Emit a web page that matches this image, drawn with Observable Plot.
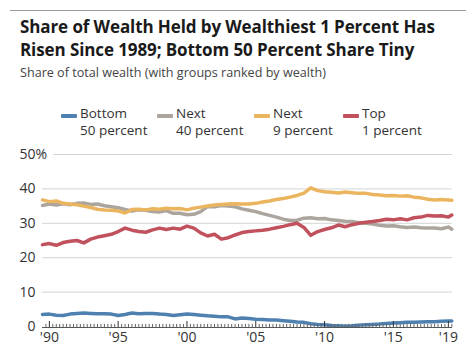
<!DOCTYPE html>
<html>
<head>
<meta charset="utf-8">
<script src="https://cdn.jsdelivr.net/npm/d3@7"></script>
<script src="https://cdn.jsdelivr.net/npm/@observablehq/plot@0.6"></script>
<style>
  html, body { margin: 0; padding: 0; background: #fff; }
  body { width: 475px; height: 354px; position: relative; overflow: hidden; font-family: "Open Sans", sans-serif; color: #222; }
  #rule { position: absolute; left: 10px; top: 10px; width: 456px; height: 1px; background: #9a9a9a; }
  #title { position: absolute; left: 20px; top: 15px; font-size: 17px; font-weight: 700; line-height: 23px; color: #1a1a1a; letter-spacing: -0.1px; white-space: nowrap; }
  #subtitle { position: absolute; left: 20px; top: 64px; font-size: 12.6px; font-weight: 400; color: #444; white-space: nowrap; }
  .leg { position: absolute; top: 105px; font-size: 13.5px; line-height: 17px; color: #333; white-space: nowrap; }
  .sw { position: absolute; top: 114px; width: 16px; height: 4px; border-radius: 1px; }
  #chart { position: absolute; left: 0; top: 140px; }
</style>
</head>
<body>
<div id="rule"></div>
<div id="title">Share of Wealth Held by Wealthiest 1 Percent Has<br>Risen Since 1989; Bottom 50 Percent Share Tiny</div>
<div id="subtitle">Share of total wealth (with groups ranked by wealth)</div>
<div id="legend"></div>
<div id="chart"></div>
<script>
const dates = [1989.5,1990.0,1990.5,1991.0,1991.5,1992.0,1992.5,1993.0,1993.5,1994.0,1994.5,1995.0,1995.5,1996.0,1996.5,1997.0,1997.5,1998.0,1998.5,1999.0,1999.5,2000.0,2000.5,2001.0,2001.5,2002.0,2002.5,2003.0,2003.5,2004.0,2004.5,2005.0,2005.5,2006.0,2006.5,2007.0,2007.5,2008.0,2008.5,2009.0,2009.5,2010.0,2010.5,2011.0,2011.5,2012.0,2012.5,2013.0,2013.5,2014.0,2014.5,2015.0,2015.5,2016.0,2016.5,2017.0,2017.5,2018.0,2018.5,2019.0,2019.25];

const bottom50 = [3.5,3.6,3.3,3.2,3.6,3.8,3.9,3.8,3.7,3.7,3.6,3.2,3.5,3.9,3.7,3.8,3.8,3.6,3.5,3.2,3.4,3.6,3.5,3.3,3.1,3.0,2.8,2.8,2.2,2.5,2.3,2.1,2.0,1.9,1.9,1.7,1.5,1.3,1.2,0.8,0.6,0.5,0.3,0.2,0.1,0.2,0.4,0.5,0.6,0.7,0.9,1.0,1.1,1.2,1.2,1.3,1.4,1.4,1.5,1.6,1.6];

const next40 = [35.2,35.6,35.3,35.7,35.4,35.8,35.9,35.5,35.6,35.1,34.8,34.5,34.0,33.6,33.9,33.8,33.4,33.3,33.7,32.9,32.9,32.5,32.6,33.4,34.9,34.8,35.2,35.0,34.8,34.2,33.8,33.4,32.8,32.3,31.8,31.2,30.8,30.9,31.5,31.6,31.3,31.4,31.0,30.8,30.6,30.5,30.2,30.0,29.8,29.4,29.2,29.3,29.0,28.8,28.9,28.7,28.6,28.6,28.4,28.9,28.3];

const next9 = [36.8,36.3,36.5,35.8,35.6,35.4,35.0,34.6,34.1,33.9,33.8,33.6,33.0,34.0,34.1,33.9,34.2,34.1,34.4,34.2,34.3,33.9,34.4,34.7,35.0,35.3,35.5,35.6,35.7,35.6,35.6,35.8,36.2,36.5,36.9,37.2,37.6,38.1,38.8,40.3,39.5,39.2,39.0,38.8,39.1,38.9,38.7,38.7,38.4,38.2,38.0,38.1,37.9,38.0,37.6,37.4,37.0,36.8,36.9,36.8,36.7];

const top1 = [23.8,24.1,23.6,24.4,24.8,25.0,24.3,25.4,26.0,26.4,26.8,27.6,28.6,28.0,27.6,27.4,28.1,28.6,28.2,28.6,28.3,29.2,28.6,27.2,26.3,26.8,25.4,25.8,26.6,27.3,27.6,27.8,28.0,28.3,28.7,29.1,29.6,30.0,28.8,26.5,27.6,28.2,28.7,29.5,29.0,29.6,30.0,30.3,30.5,30.8,31.2,31.0,31.3,31.0,31.6,31.8,32.3,32.1,32.2,31.8,32.4];

const groups = ["Bottom 50 percent", "Next 40 percent", "Next 9 percent", "Top 1 percent"];
const legendLine1 = ["Bottom", "Next", "Next", "Top"];
const legendLine2 = ["50 percent", "40 percent", "9 percent", "1 percent"];
const colors = ["#4e80b0", "#aba59d", "#ebb55f", "#c1515c"];
const yTicks = [0, 10, 20, 30, 40, 50];
const xMajor = [1990, 1995, 2000, 2005, 2010, 2015, 2019];
const xLabels = ["'90", "'95", "'00", "'05", "'10", "'15", "'19"];

const seriesValues = [bottom50, next40, next9, top1];
const rows = [];
groups.forEach((g, i) => {
  dates.forEach((d, j) => rows.push({group: g, date: d, value: seriesValues[i][j]}));
});

// legend
const legendX = [61, 157, 254, 343];
const legend = document.getElementById("legend");
groups.forEach((g, i) => {
  const sw = document.createElement("div");
  sw.className = "sw";
  sw.style.left = legendX[i] + "px";
  sw.style.background = colors[i];
  legend.appendChild(sw);
  const t = document.createElement("div");
  t.className = "leg";
  t.style.left = (legendX[i] + 19) + "px";
  t.innerHTML = legendLine1[i] + "<br>" + legendLine2[i];
  legend.appendChild(t);
});

const minorTicks = d3.range(1989.75, 2019.3, 0.25).filter(t => !xMajor.includes(t));

const chart = Plot.plot({
  width: 475,
  height: 214,
  marginLeft: 42,
  marginRight: 23,
  marginTop: 14,
  marginBottom: 28,
  style: {fontFamily: "Open Sans, sans-serif", fontSize: "14px", color: "#333", background: "transparent"},
  x: {domain: [1989.5, 2019.3], label: null},
  y: {domain: [0, 50], label: null},
  color: {domain: groups, range: colors},
  marks: [
    Plot.gridY(yTicks.filter(t => t > 0 && t < 50), {stroke: "#d4d4d4", strokeOpacity: 1, strokeWidth: 1}),
    Plot.ruleY([50], {stroke: "#d4d4d4", x1: 1990.3, x2: 2019.3}),
    Plot.axisY(yTicks, {tickSize: 0, tickPadding: 7, fill: "#333", fontSize: 14, label: null}),
    Plot.text([50], {y: d => d, text: () => "%", frameAnchor: "left", textAnchor: "start", dx: -7, fill: "#333", fontSize: 14}),
    Plot.lineY(rows, {x: "date", y: "value", stroke: "group", strokeWidth: 3.5, strokeLinejoin: "round", strokeLinecap: "round"}),
    Plot.ruleY([0], {stroke: "#555", strokeWidth: 1, dy: 1}),
    Plot.ruleX(minorTicks, {x: d => d, y1: 0, y2: 0.9, stroke: "#666", strokeWidth: 1, dy: 1}),
    Plot.ruleX(xMajor, {x: d => d, y1: 0, y2: 1.75, stroke: "#333", strokeWidth: 1, dy: 1}),
    Plot.axisX(xMajor, {tickSize: 0, tickPadding: 6, tickFormat: d => xLabels[xMajor.indexOf(d)], fill: "#333", fontSize: 14, anchor: "bottom", label: null}),
  ]
});
document.getElementById("chart").appendChild(chart);
</script>
</body>
</html>
